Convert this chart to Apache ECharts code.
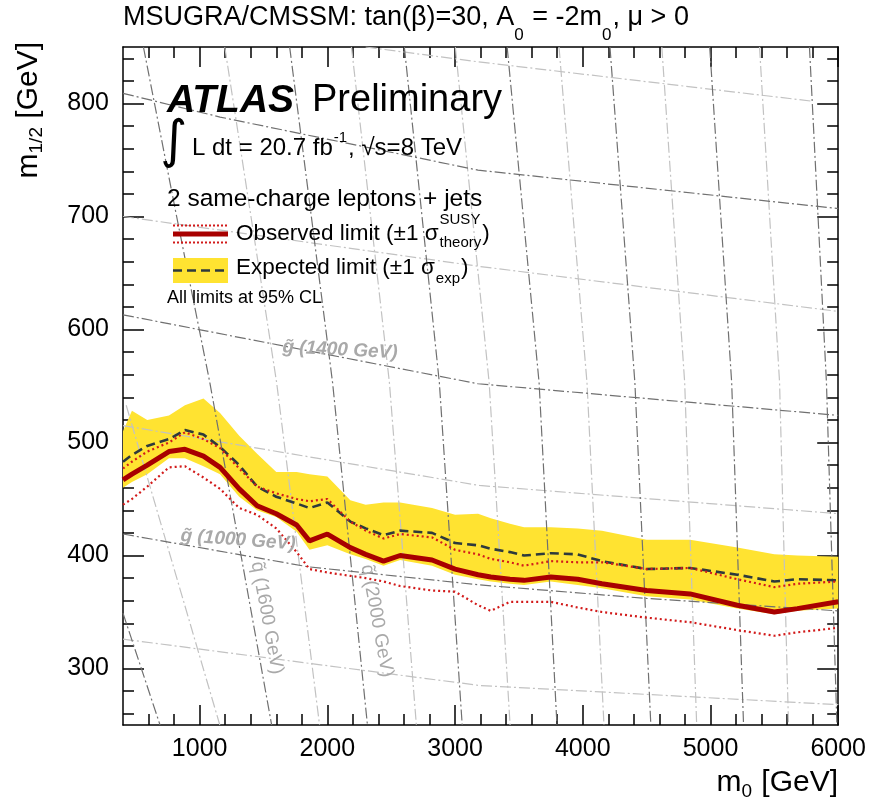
<!DOCTYPE html>
<html><head><meta charset="utf-8">
<script src="https://cdn.jsdelivr.net/npm/echarts@6/dist/echarts.min.js"></script>
<style>html,body{margin:0;padding:0;background:#fff}#c{width:869px;height:802px}</style>
</head><body><div id="c"></div>
<script>
// ---------------- data ----------------
const m0 =           [400, 470, 590, 760, 885, 1030,1160,1310,1450,1600,1760,1860,2000,2180,2300,2440,2570,2820,3000,3180,3280,3430,3540,3750,3960,4150,4500,4840,5210,5500,5680,6000];
const observed =     [467, 472, 480, 492, 494, 488, 478, 459, 444, 437, 427, 413, 419, 407, 401, 395, 400, 396, 388, 383, 381, 379, 378, 381, 379, 375, 369, 366, 356, 350, 353, 359];
const observedUp =   [477, 483, 492, 500, 509, 503, 495, 477, 461, 455, 450, 448, 450, 430, 422, 415, 419, 416, 405, 401, 397, 394, 391, 395, 394, 394, 388, 389, 379, 372, 375, 377];
const observedDown = [445, 450, 461, 478, 479, 469, 459, 442, 436, 424, 403, 388, 385, 382, 380, 377, 373, 369, 368, 356, 351, 359, 359, 359, 354, 350, 345, 341, 334, 329, 332, 336];
const expected =     [483, 489, 497, 503, 511, 507, 496, 480, 461, 452, 446, 442, 447, 430, 424, 418, 422, 420, 411, 409, 406, 403, 400, 402, 401, 395, 388, 389, 383, 377, 379, 378];
const expectedUp =   [510, 528, 520, 524, 533, 539, 526, 506, 490, 474, 474, 472, 470, 449, 445, 447, 447, 442, 436, 437, 433, 428, 425, 425, 424, 422, 414, 414, 407, 401, 400, 399];
const expectedDown = [460, 465, 472, 486, 486, 479, 472, 452, 440, 434, 421, 405, 409, 401, 397, 391, 396, 391, 383, 379, 377, 375, 374, 377, 374, 371, 364, 361, 353, 348, 351, 353];

// gluino mass contours [m0, m1/2]
const gluino800  = [[400,326],[3190,285],[6000,268]];
const gluino1000 = [[400,419],[900,409],[1850,390],[3190,374],[4500,362],[6000,351]];
const gluino1200 = [[400,515],[3190,462],[6000,437]];
const gluino1400 = [[400,613],[3180,552],[6000,524]];
const gluino1600 = [[400,700],[3180,656],[6000,616]];
const gluino1800 = [[400,809],[1160,788],[3180,741],[6000,707]];
const gluino2000 = [[2300,850],[3173,837],[5800,802]];
// squark mass contours [m0, m1/2]
const squark1200 = [[400,349],[690,250]];
const squark1400 = [[425,533],[1158,250]];
const squark1600 = [[560,850],[820,700],[1080,553],[1564,250]];
const squark1800 = [[1197,850],[1603,553],[1939,250]];
const squark2000 = [[1705,850],[2041,553],[2314,250]];
const squark2200 = [[2189,850],[2486,553],[2697,250]];
const squark2400 = [[2603,850],[2877,553],[3056,250]];
const squark2600 = [[3002,850],[3267,553],[3431,250]];
const squark2800 = [[3408,850],[3658,553],[3798,250]];
const squark3000 = [[3814,850],[4033,553],[4166,250]];
const squark3200 = [[4213,850],[4408,553],[4533,250]];
const squark3400 = [[4619,850],[4798,553],[4892,250]];
const squark3600 = [[4994,850],[5166,553],[5259,250]];
const squark3800 = [[5384,850],[5541,553],[5611,250]];
const squark4000 = [[5775,850],[5908,553],[5990,250]];

const xMajorTicks = [1000,2000,3000,4000,5000,6000];
const xMinorTicks = [600,800,1200,1400,1600,1800,2200,2400,2600,2800,3200,3400,3600,3800,4200,4400,4600,4800,5200,5400,5600,5800];
const yMajorTicks = [300,400,500,600,700,800];
const yMinorTicks = [260,280,320,340,360,380,420,440,460,480,520,540,560,580,620,640,660,680,720,740,760,780,820,840];

// ---------------- styling ----------------
const FONT = "'Liberation Sans', Arial, Helvetica, sans-serif";
const DARK = '#707070', LIGHT = '#c2c2c2';
const DASHDOT = [11,3,2,3];
const darkContours = [gluino1000, gluino1400, gluino1800, squark1200, squark1600, squark2000, squark2400, squark2800, squark3200, squark3600, squark4000];
const lightContours = [gluino800, gluino1200, gluino1600, gluino2000, squark1400, squark1800, squark2200, squark2600, squark3000, squark3400, squark3800];

const canvas = document.createElement('canvas');
const ctx = canvas.getContext('2d');
function tw(text, font) { ctx.font = font; return ctx.measureText(text).width; }

function pairs(ys) { return m0.map((x, i) => [x, ys[i]]); }

const chart = echarts.init(document.getElementById('c'), null, {renderer: 'canvas'});

function xAx(pos, major, showLabel, showLine) {
  return {
    type: 'value', min: 400, max: 6000, position: pos, gridIndex: 0,
    splitLine: {show: false},
    axisLine: {show: showLine, onZero: false, lineStyle: {color: '#000', width: 1.5}},
    axisTick: {show: true, inside: true, length: major ? 20 : 11, customValues: major ? xMajorTicks : xMinorTicks, lineStyle: {color: '#000', width: 1.5}},
    axisLabel: {show: showLabel, customValues: xMajorTicks, fontSize: 25, color: '#000', fontFamily: FONT, margin: 12,
      formatter: v => String(v)},
  };
}
function yAx(pos, major, showLabel, showLine) {
  return {
    type: 'value', min: 250, max: 850, position: pos, gridIndex: 0,
    splitLine: {show: false},
    axisLine: {show: showLine, onZero: false, lineStyle: {color: '#000', width: 1.5}},
    axisTick: {show: true, inside: true, length: major ? 21 : 11, customValues: major ? yMajorTicks : yMinorTicks, lineStyle: {color: '#000', width: 1.5}},
    axisLabel: {show: showLabel, customValues: yMajorTicks, fontSize: 25, color: '#000', fontFamily: FONT, margin: 14,
      formatter: v => String(v)},
  };
}

const series = [];
// yellow expected band
series.push({
  type: 'custom', name: 'band', coordinateSystem: 'cartesian2d', silent: true, z: 1,
  data: [[m0[0], expectedUp[0]]],
  renderItem: function (params, api) {
    const pts = [];
    for (let i = 0; i < m0.length; i++) pts.push(api.coord([m0[i], expectedUp[i]]));
    for (let i = m0.length - 1; i >= 0; i--) pts.push(api.coord([m0[i], expectedDown[i]]));
    return {type: 'polygon', shape: {points: pts}, style: {fill: '#ffe331', stroke: null}};
  }
});
lightContours.forEach(c => series.push({type: 'line', data: c, symbol: 'none', silent: true, z: 2, clip: true,
  lineStyle: {color: LIGHT, width: 1.2, type: DASHDOT}}));
darkContours.forEach(c => series.push({type: 'line', data: c, symbol: 'none', silent: true, z: 2, clip: true,
  lineStyle: {color: DARK, width: 1.2, type: DASHDOT}}));
series.push({type: 'line', data: pairs(expected), symbol: 'none', silent: true, z: 4,
  lineStyle: {color: '#2e3a3c', width: 2.6, type: [9,5]}});
series.push({type: 'line', data: pairs(observedUp), symbol: 'none', silent: true, z: 5,
  lineStyle: {color: '#d21a1a', width: 2.2, type: [2,3]}});
series.push({type: 'line', data: pairs(observedDown), symbol: 'none', silent: true, z: 5,
  lineStyle: {color: '#d21a1a', width: 2.2, type: [2,3]}});
series.push({type: 'line', data: pairs(observed), symbol: 'none', silent: true, z: 6,
  lineStyle: {color: '#a80000', width: 5}});

// ---------------- text ----------------
const graphics = [];
function txt(x, y, text, font, fill, opts) {
  const base = {text: text, font: font, fill: fill || '#000', align: 'left', verticalAlign: 'middle', textAlign: 'left', textVerticalAlign: 'middle'};
  const o = Object.assign({type: 'text', x: x, y: y, silent: true, z: 100}, opts || {});
  o.style = Object.assign(base, (opts && opts.style) || {});
  graphics.push(o);
  return o;
}
// title
const tF = '27px ' + FONT, tS = '17px ' + FONT;
let tx = 123;
const titleParts = [['MSUGRA/CMSSM: tan(\u03b2)=30, A', tF, 18], ['0', tS, 35], [' = -2m', tF, 18], ['0', tS, 35], [', \u03bc > 0', tF, 18]];
titleParts.forEach(p => { txt(tx, p[2], p[0], p[1]); tx += tw(p[0], p[1]) + (p[1] === tS ? 1 : 0); });

// ATLAS Preliminary
txt(167, 101, 'ATLAS', 'bold italic 39px ' + FONT);
txt(312, 101, 'Preliminary', '38px ' + FONT);
// luminosity
txt(160, 143, '\u222b', '52px DejaVu Sans');
const lF = '24px ' + FONT, lS = '15px ' + FONT;
let lx = 192;
[['L dt = 20.7 fb', lF, 148], ['-1', lS, 138], [', \u221as=8 TeV', lF, 148]].forEach(p => { txt(lx, p[2], p[0], p[1]); lx += tw(p[0], p[1]) + 1; });
txt(167, 199, '2 same-charge leptons + jets', '24.5px ' + FONT);

// legend symbols
graphics.push({type: 'line', silent: true, z: 100, shape: {x1: 173, y1: 234, x2: 228, y2: 234}, style: {stroke: '#a80000', lineWidth: 5}});
graphics.push({type: 'line', silent: true, z: 100, shape: {x1: 173, y1: 225.5, x2: 228, y2: 225.5}, style: {stroke: '#d21a1a', lineWidth: 2, lineDash: [2,2]}});
graphics.push({type: 'line', silent: true, z: 100, shape: {x1: 173, y1: 242.5, x2: 228, y2: 242.5}, style: {stroke: '#d21a1a', lineWidth: 2, lineDash: [2,2]}});
graphics.push({type: 'rect', silent: true, z: 100, shape: {x: 173, y: 258, width: 55, height: 25}, style: {fill: '#ffe331'}});
graphics.push({type: 'line', silent: true, z: 101, shape: {x1: 173, y1: 270.5, x2: 228, y2: 270.5}, style: {stroke: '#2e3a3c', lineWidth: 2.6, lineDash: [9,5]}});
// legend text
const gF = '22.5px ' + FONT, gS = '15px ' + FONT;
const obsMain = 'Observed limit (\u00b11 \u03c3';
txt(236, 234, obsMain, gF);
let ox = 236 + tw(obsMain, gF) + 1;
txt(ox, 220, 'SUSY', gS);
txt(ox, 243, 'theory', gS);
ox += Math.max(tw('SUSY', gS), tw('theory', gS)) + 1;
txt(ox, 234, ')', gF);
const expMain = 'Expected limit (\u00b11 \u03c3';
txt(236, 268, expMain, gF);
let ex = 236 + tw(expMain, gF) + 1;
txt(ex, 279, 'exp', gS);
ex += tw('exp', gS) + 1;
txt(ex, 268, ')', gF);
txt(167, 298, 'All limits at 95% CL', '18px ' + FONT);

// contour labels
const cF = 'bold italic 19px ' + FONT;
const cQ = '19px ' + FONT;
txt(340, 350, 'g\u0303 (1400 GeV)', cF, '#a9a9a9', {rotation: -0.05, style: {align: 'center', textAlign: 'center'}});
txt(238, 540, 'g\u0303 (1000 GeV)', cF, '#a9a9a9', {rotation: -0.075, style: {align: 'center', textAlign: 'center'}});
txt(267, 618, 'q\u0303 (1600 GeV)', cQ, '#a9a9a9', {rotation: -1.39, style: {align: 'center', textAlign: 'center'}});
txt(377, 621, 'q\u0303 (2000 GeV)', cQ, '#a9a9a9', {rotation: -1.39, style: {align: 'center', textAlign: 'center'}});

// axis titles
const aF = '30px ' + FONT, aS = '19px ' + FONT;
const xt1 = 'm', xt2 = '0', xt3 = ' [GeV]';
let xw = tw(xt1, aF) + tw(xt2, aS) + tw(xt3, aF) + 1;
let ax0 = 838 - xw;
txt(ax0, 783, xt1, aF); ax0 += tw(xt1, aF);
txt(ax0, 792, xt2, aS); ax0 += tw(xt2, aS) + 1;
txt(ax0, 783, xt3, aF);
// y title (rotated, reading upwards, top end at y=42)
graphics.push({type: 'text', silent: true, z: 100, x: 29, y: 42, rotation: Math.PI / 2,
  style: {text: '{a|m}{s|1/2}{a| [GeV]}', align: 'right', verticalAlign: 'middle', textAlign: 'right', textVerticalAlign: 'middle', fill: '#000',
    rich: {a: {font: aF, fill: '#000'}, s: {font: aS, fill: '#000', padding: [16, 0, 0, 0]}}}});

chart.setOption({
  animation: false,
  backgroundColor: '#fff',
  grid: {left: 123, right: 29, top: 47, bottom: 77, containLabel: false},
  xAxis: [xAx('bottom', true, true, true), xAx('bottom', false, false, false), xAx('top', true, false, true), xAx('top', false, false, false)],
  yAxis: [yAx('left', true, true, true), yAx('left', false, false, false), yAx('right', true, false, true), yAx('right', false, false, false)],
  series: series,
  graphic: graphics
});
</script></body></html>
